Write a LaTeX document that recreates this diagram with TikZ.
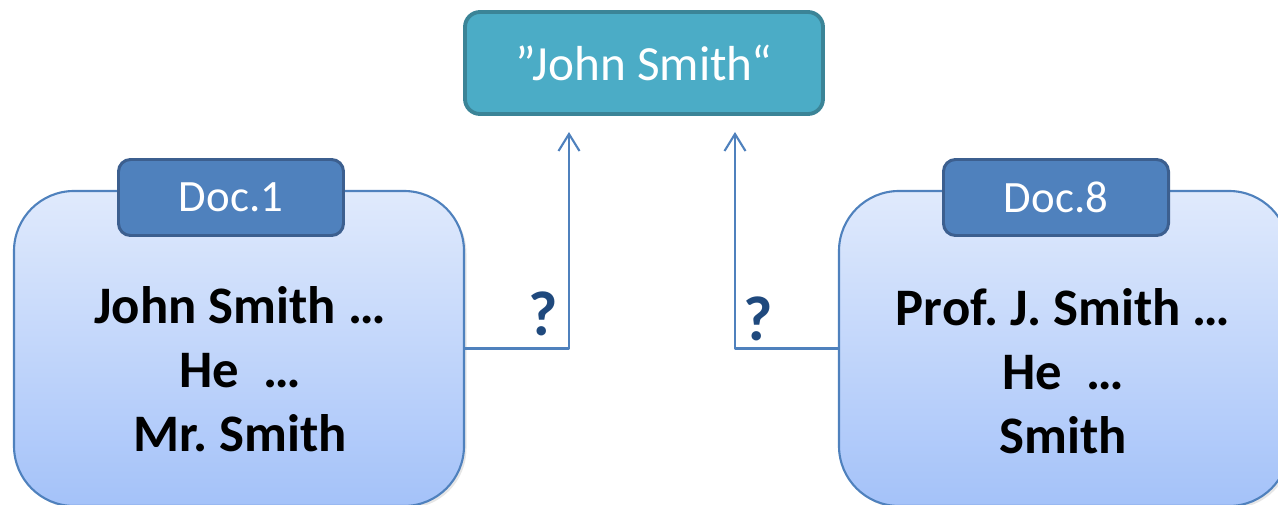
\documentclass[tikz,border=0pt]{standalone}
\usepackage{fontspec}
\setmainfont{Carlito}
\frenchspacing
\usepackage{tikz}
\usetikzlibrary{arrows.meta,positioning,shadows}
\definecolor{coDocTop}{HTML}{E0EAFC}
\definecolor{coDocBottom}{HTML}{A4C2F9}
\definecolor{coDocLine}{HTML}{4F81BD}
\definecolor{coTabFill}{HTML}{4F81BD}
\definecolor{coTabLine}{HTML}{3C5F8F}
\definecolor{coQueryFill}{HTML}{4BACC6}
\definecolor{coQueryLine}{HTML}{3B8497}
\definecolor{coMark}{HTML}{1F497D}
\tikzset{
  co diagram/.style={line cap=round, line join=round},
  co doc/.style={draw=coDocLine, line width=1.2pt,
    top color=coDocTop, bottom color=coDocBottom,
    rounded corners=1.2cm, minimum width=9cm, minimum height=6.3cm,
    drop shadow={opacity=0.2, shadow xshift=0.5mm, shadow yshift=-0.5mm}},
  co tab/.style={draw=coTabLine, fill=coTabFill, line width=1.7pt,
    rounded corners=0.24cm, minimum width=4.5cm, minimum height=1.52cm,
    text=white, font=\fontsize{25.5}{30}\selectfont},
  co query/.style={draw=coQueryLine, fill=coQueryFill, line width=2.2pt,
    rounded corners=0.3cm, minimum width=7.16cm, minimum height=2.04cm,
    text=white, font=\fontsize{28}{33}\selectfont},
  co body/.style={align=center, font=\bfseries\fontsize{30}{36.3}\selectfont},
  co link/.style={-{Straight Barb[length=3.4mm,width=4.2mm]}, draw=coDocLine,
    line width=1.2pt},
  co mark/.style={text=coMark, font=\bfseries\fontsize{36}{40}\selectfont}
}
\begin{document}
\begin{tikzpicture}[co diagram]
\clip (0,0) rectangle (25.56,10.1);
% query
\node[co query] (query) at (12.88,8.84) {”John Smith“};
% documents
\node[co doc] (doc1) at (4.78,3.13) {};
\node[co doc] (doc8) at (21.28,3.13) {};
\node[co tab] (tab1) at (4.62,6.15) {Doc.1};
\node[co tab] (tab8) at (21.12,6.15) {Doc.8};
\node[co body] (txt1) at (4.80,2.72) {John Smith …\\He\ \ …\\Mr. Smith};
\node[co body] (txt8) at (21.26,2.68) {Prof. J. Smith …\\He\ \ …\\Smith};
% links
\coordinate (in1) at (11.38,7.46);
\coordinate (in8) at (14.70,7.46);
\draw[co link] (doc1.east) -| (in1);
\draw[co link] (doc8.west) -| (in8);
\node[co mark] (q1) at (10.86,3.82) {?};
\node[co mark] (q8) at (15.16,3.72) {?};
\end{tikzpicture}
\end{document}
